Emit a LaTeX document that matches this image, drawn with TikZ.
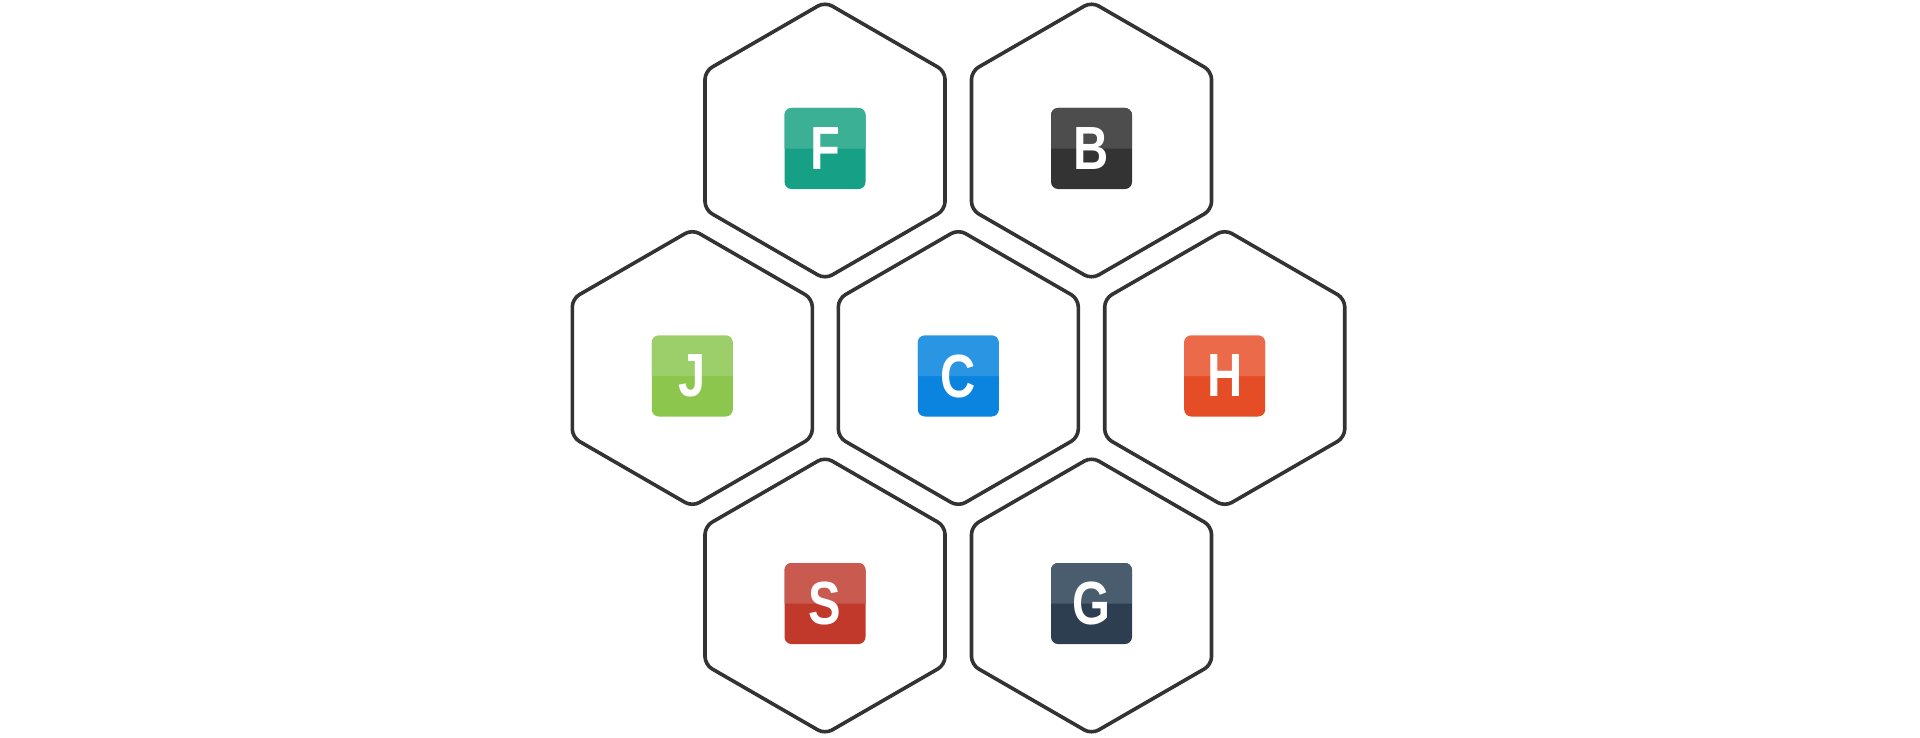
\documentclass[tikz,border=0pt]{standalone}
\usepackage{fontspec}
\usepackage{graphicx}
\usetikzlibrary{shapes.geometric}
\newfontfamily\iconfont{Liberation Sans}
\definecolor{hexline}{HTML}{333333}
\definecolor{FTop}{HTML}{3CB095}\definecolor{FBot}{HTML}{16A085}
\definecolor{BTop}{HTML}{4D4D4D}\definecolor{BBot}{HTML}{333333}
\definecolor{JTop}{HTML}{9CCF69}\definecolor{JBot}{HTML}{8CC64C}
\definecolor{CTop}{HTML}{2A95E3}\definecolor{CBot}{HTML}{0A84DF}
\definecolor{HTop}{HTML}{EB6A4A}\definecolor{HBot}{HTML}{E44D26}
\definecolor{STop}{HTML}{C85A50}\definecolor{SBot}{HTML}{C0392B}
\definecolor{GTop}{HTML}{4A5D6E}\definecolor{GBot}{HTML}{2C3E50}
\tikzset{
  hexa/.style={regular polygon, regular polygon sides=6, shape border rotate=30,
    minimum size=138.56pt, inner sep=0pt, outer sep=0pt, draw=hexline,
    line width=1.8pt, rounded corners=4pt},
  icon/.style={rectangle, minimum width=40.5pt, minimum height=40.5pt,
    inner sep=0pt, outer sep=0pt, rounded corners=3.5pt, fill=#1Bot,
    path picture={\fill[#1Top, sharp corners] (path picture bounding box.west)
      [rounded corners=3.5pt] -- (path picture bounding box.north west)
      -- (path picture bounding box.north east) [sharp corners]
      -- (path picture bounding box.east) -- cycle;},
    text=white, font=\iconfont\bfseries\fontsize{30.5}{32}\selectfont}
}
\newcommand{\lett}[1]{\raisebox{-0.5pt}{\scalebox{0.8}[1]{#1}}}
\begin{document}
\begin{tikzpicture}[x=0.5pt,y=-0.5pt]
\useasboundingbox (0,0) rectangle (1920,738);
% hexagons
\node[hexa] (F) at (825,140.5) {};
\node[hexa] (B) at (1091.5,140.5) {};
\node[hexa] (J) at (692.3,368) {};
\node[hexa] (C) at (958.3,368) {};
\node[hexa] (H) at (1224.7,368) {};
\node[hexa] (S) at (825,595.5) {};
\node[hexa] (G) at (1091.5,595.5) {};
% icons
\node[icon=F] (Fi) at (825,148.5) {\lett{F}};
\node[icon=B] (Bi) at (1091.5,148.5) {\lett{B}};
\node[icon=J] (Ji) at (692.3,376) {\lett{J}};
\node[icon=C] (Ci) at (958.3,376) {\lett{C}};
\node[icon=H] (Hi) at (1224.7,376) {\lett{H}};
\node[icon=S] (Si) at (825,603.5) {\lett{S}};
\node[icon=G] (Gi) at (1091.5,603.5) {\lett{G}};
\end{tikzpicture}
\end{document}
